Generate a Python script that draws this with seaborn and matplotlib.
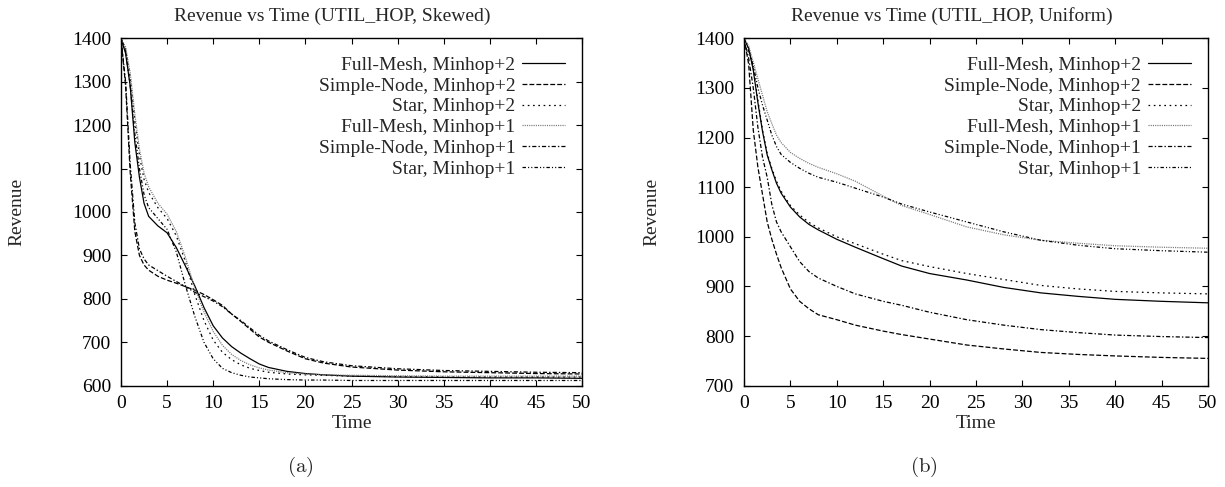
import pandas as pd
import matplotlib
matplotlib.use('Agg')
import matplotlib.pyplot as plt
import seaborn as sns

# Series names, in legend order
series = ['Full-Mesh, Minhop+2', 'Simple-Node, Minhop+2', 'Star, Minhop+2',
          'Full-Mesh, Minhop+1', 'Simple-Node, Minhop+1', 'Star, Minhop+1']

# (a) Skewed demand
time_skewed = [0, 0.5, 1, 1.5, 2, 2.5, 3, 4, 5, 6, 7, 8, 9, 10, 11, 12, 13, 14, 15,
               16, 18, 20, 22, 25, 30, 35, 40, 45, 50]
fm2_skewed = [1400, 1365, 1290, 1160, 1080, 1020, 990, 968, 952, 918, 875, 830, 780, 738, 710,
              690, 675, 662, 650, 642, 633, 628, 625, 622, 620, 619, 618, 618, 617]
sn2_skewed = [1400, 1290, 1090, 955, 900, 878, 866, 852, 843, 836, 828, 820, 810, 798, 785,
              765, 748, 730, 712, 700, 680, 662, 652, 643, 636, 632, 630, 628, 627]
star2_skewed = [1400, 1375, 1310, 1210, 1130, 1075, 1045, 1010, 985, 945, 885, 810, 750, 705, 677,
                660, 648, 640, 635, 631, 627, 625, 624, 622, 621, 620, 620, 620, 620]
fm1_skewed = [1400, 1380, 1320, 1225, 1145, 1090, 1058, 1020, 995, 955, 895, 825, 770, 725, 693,
              672, 658, 648, 641, 636, 630, 627, 625, 624, 623, 622, 622, 622, 622]
sn1_skewed = [1400, 1300, 1110, 975, 915, 892, 878, 865, 852, 840, 828, 815, 805, 795, 782,
              765, 750, 733, 716, 703, 683, 665, 655, 646, 639, 635, 633, 631, 630]
star1_skewed = [1400, 1370, 1290, 1180, 1100, 1040, 1010, 985, 960, 908, 830, 760, 700, 662, 640,
                630, 624, 620, 618, 616, 614, 613, 613, 612, 612, 612, 612, 612, 612]

# (b) Uniform demand
time_uniform = [0, 0.5, 1, 1.5, 2, 2.5, 3, 3.5, 4, 5, 6, 7, 8, 10, 12, 15, 17, 20, 24, 28,
                32, 36, 40, 45, 50]
fm2_uniform = [1400, 1380, 1336, 1270, 1212, 1165, 1135, 1108, 1088, 1060, 1040, 1025, 1014,
               995, 979, 956, 941, 926, 913, 898, 887, 880, 874, 870, 867]
sn2_uniform = [1400, 1348, 1215, 1140, 1085, 1030, 995, 965, 938, 895, 870, 855, 843,
               833, 822, 810, 803, 794, 782, 774, 767, 763, 760, 757, 755]
star2_uniform = [1400, 1382, 1340, 1275, 1215, 1168, 1138, 1112, 1092, 1063, 1044, 1029, 1018,
                 1000, 986, 965, 952, 940, 926, 914, 902, 895, 890, 887, 885]
fm1_uniform = [1400, 1385, 1352, 1318, 1285, 1252, 1228, 1205, 1190, 1170, 1158, 1148, 1140,
               1127, 1112, 1082, 1063, 1045, 1020, 1004, 993, 987, 982, 979, 977]
sn1_uniform = [1400, 1360, 1300, 1220, 1160, 1120, 1065, 1030, 1010, 980, 950, 930, 917,
               900, 885, 870, 862, 848, 833, 822, 813, 807, 802, 799, 797]
star1_uniform = [1400, 1375, 1345, 1300, 1265, 1235, 1205, 1182, 1166, 1150, 1138, 1128, 1120,
                 1110, 1098, 1080, 1066, 1050, 1030, 1010, 993, 983, 976, 972, 969]

# gnuplot-like monochrome line styles
styles = {
    'Full-Mesh, Minhop+2': ('black', '-'),
    'Simple-Node, Minhop+2': ('black', (0, (3.5, 1.5))),
    'Star, Minhop+2': ('black', (0, (1.2, 2.6))),
    'Full-Mesh, Minhop+1': ('#777777', (0, (0.8, 0.8))),
    'Simple-Node, Minhop+1': ('black', (0, (3, 1.5, 1, 1.5))),
    'Star, Minhop+1': ('black', (0, (2.5, 1.5, 0.8, 1.5, 0.8, 1.5))),
}

sns.set_style('ticks')
plt.rcParams['font.family'] = ['Liberation Serif', 'DejaVu Serif']
plt.rcParams['mathtext.fontset'] = 'cm'
plt.rcParams['lines.scale_dashes'] = False

W, H = 1225, 487
fig = plt.figure(figsize=(W / 100, H / 100), dpi=100)
bottom = (H - 385.7) / H
height = 347.4 / H
ax1 = fig.add_axes([121 / W, bottom, 461 / W, height])
ax2 = fig.add_axes([744 / W, bottom, 464 / W, height])

panels = [
    (ax1, time_skewed, [fm2_skewed, sn2_skewed, star2_skewed, fm1_skewed, sn1_skewed, star1_skewed],
     (600, 1400), 'Revenue vs Time (UTIL_HOP, Skewed)', 332, '(a)', 300, -0.208),
    (ax2, time_uniform, [fm2_uniform, sn2_uniform, star2_uniform, fm1_uniform, sn1_uniform, star1_uniform],
     (700, 1400), 'Revenue vs Time (UTIL_HOP, Uniform)', 952, '(b)', 924, -0.181),
]

for ax, t, values, ylim, title, title_x, caption, cap_x, ylab_x in panels:
    df = pd.DataFrame({'Time': t})
    for name, v in zip(series, values):
        color, ls = styles[name]
        sns.lineplot(x=df['Time'], y=v, ax=ax, color=color, linestyle=ls, lw=0.9, label=name)

    ax.set_xlim(0, 50)
    ax.set_ylim(*ylim)
    ax.set_xticks(range(0, 51, 5))
    ax.set_yticks(range(ylim[0], 1401, 100))
    ax.tick_params(direction='in', length=4, width=0.8, top=True, right=True,
                   labelsize=14, pad=7, colors='black')
    for sp in ax.spines.values():
        sp.set_linewidth(1.0)
        sp.set_color('black')

    ax.set_xlabel('Time', fontsize=14)
    ax.xaxis.set_label_coords(0.5, -0.085)
    ax.set_ylabel('Revenue', fontsize=14)
    ax.yaxis.set_label_coords(ylab_x, 0.5)

    handles, labels = ax.get_legend_handles_labels()
    ax.legend(handles, labels, loc='upper right', bbox_to_anchor=(0.963, 0.948),
              markerfirst=False, frameon=False, fontsize=14, handlelength=2.2,
              handletextpad=0.35, labelspacing=0.16, borderpad=0, borderaxespad=0)

    fig.text(title_x / W, 1 - 16.5 / H, title, fontsize=14, ha='center', va='center')
    fig.text(cap_x / W, 1 - 467 / H, r'$(\mathrm{' + caption[1] + r'})$', fontsize=15,
             ha='center', va='center')

fig.savefig('out.png', dpi=100)
